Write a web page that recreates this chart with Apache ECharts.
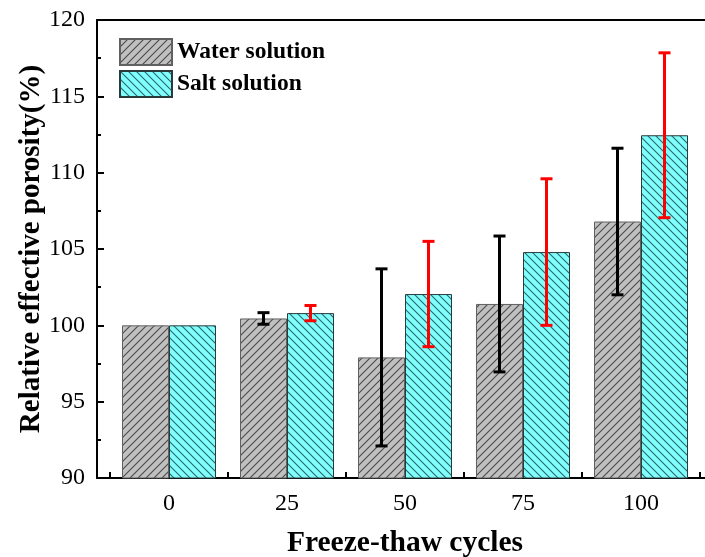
<!DOCTYPE html>
<html>
<head>
<meta charset="utf-8">
<script src="https://cdn.jsdelivr.net/npm/echarts@6/dist/echarts.min.js"></script>
<style>
  html, body { margin: 0; padding: 0; background: #fff; }
  #chart { width: 705px; height: 557px; }
</style>
</head>
<body>
<div id="chart"></div>
<script>
// Freeze-thaw cycle counts (x categories)
const cycles = ['0', '25', '50', '75', '100'];
// Relative effective porosity (%), mean values
const waterMean = [100.0, 100.45, 97.9, 101.4, 106.8];
const saltMean  = [100.0, 100.8, 102.05, 104.8, 112.45];
// Standard deviations drawn as error bars
const waterErr = [0, 0.38, 5.8, 4.45, 4.8];
const saltErr  = [0, 0.5, 3.45, 4.8, 5.4];
// Y axis range and ticks
const yMin = 90, yMax = 120, yStep = 5;

const serif = '"Liberation Serif", "Times New Roman", serif';
const BAR_W = 47;

// Hatched fill: base colour with thin diagonal lines; dir 1 = "/", -1 = "\"
function hatch(base, line, dir) {
  const p = 8;
  const c = document.createElement('canvas');
  c.width = p; c.height = p;
  const g = c.getContext('2d');
  g.fillStyle = base;
  g.fillRect(0, 0, p, p);
  g.strokeStyle = line;
  g.lineWidth = 1.1;
  g.beginPath();
  if (dir > 0) {
    g.moveTo(-1, p + 1); g.lineTo(p + 1, -1);
    g.moveTo(-1, 1); g.lineTo(1, -1);
    g.moveTo(p - 1, p + 1); g.lineTo(p + 1, p - 1);
  } else {
    g.moveTo(-1, -1); g.lineTo(p + 1, p + 1);
    g.moveTo(p - 1, -1); g.lineTo(p + 1, 1);
    g.moveTo(-1, p - 1); g.lineTo(1, p + 1);
  }
  g.stroke();
  return { image: c, repeat: 'repeat' };
}

function errData(mean, err) {
  return mean.map((m, i) => [i, m - err[i], m + err[i]]);
}

function errRenderer(shift, color) {
  return function (params, api) {
    if (api.value(2) - api.value(1) === 0) return null;
    const i = api.value(0);
    const lo = api.coord([i, api.value(1)]);
    const hi = api.coord([i, api.value(2)]);
    const x = lo[0] + shift;
    const cap = 6;
    const style = { stroke: color, lineWidth: 3 };
    return {
      type: 'group',
      children: [
        { type: 'line', shape: { x1: x, y1: lo[1], x2: x, y2: hi[1] }, style },
        { type: 'line', shape: { x1: x - cap, y1: hi[1], x2: x + cap, y2: hi[1] }, style },
        { type: 'line', shape: { x1: x - cap, y1: lo[1], x2: x + cap, y2: lo[1] }, style }
      ]
    };
  };
}

const chart = echarts.init(document.getElementById('chart'));
chart.setOption({
  animation: false,
  backgroundColor: '#fff',
  grid: [
    { left: 97, top: 20, bottom: 79, width: 640, outerBoundsMode: 'none' },
    { left: 110, top: 20, bottom: 79, width: 590, outerBoundsMode: 'none' }
  ],
  legend: {
    orient: 'vertical',
    left: 114, top: 33,
    icon: 'rect',
    itemWidth: 52, itemHeight: 26, itemGap: 4,
    textStyle: { fontFamily: serif, fontWeight: 'bold', fontSize: 23.5, color: '#000' },
    data: ['Water solution', 'Salt solution']
  },
  xAxis: [
    { gridIndex: 0, type: 'value', min: 0, max: 1, position: 'bottom',
      axisLine: { show: true, lineStyle: { color: '#000', width: 2 } },
      axisTick: { show: false }, axisLabel: { show: false }, splitLine: { show: false } },
    { gridIndex: 0, type: 'value', min: 0, max: 1, position: 'top',
      axisLine: { show: true, lineStyle: { color: '#000', width: 2 } },
      axisTick: { show: false }, axisLabel: { show: false }, splitLine: { show: false } },
    { gridIndex: 1, type: 'category', data: cycles, boundaryGap: true,
      axisLine: { show: false },
      axisTick: { show: true, inside: true, length: 6, lineStyle: { color: '#000', width: 2 } },
      axisLabel: { fontFamily: serif, fontSize: 24, color: '#000', margin: 14 },
      name: 'Freeze-thaw cycles', nameLocation: 'middle', nameGap: 50, nameMoveOverlap: false,
      nameTextStyle: { fontFamily: serif, fontWeight: 'bold', fontSize: 29.5, color: '#000' } },
  ],
  yAxis: [
    { gridIndex: 0, type: 'value', min: yMin, max: yMax, interval: yStep,
      axisLine: { show: true, lineStyle: { color: '#000', width: 2 } },
      axisTick: { show: true, inside: true, length: 7, lineStyle: { color: '#000', width: 2 } },
      minorTick: { show: true, splitNumber: 2, length: 4, lineStyle: { color: '#000', width: 2 } },
      axisLabel: { fontFamily: serif, fontSize: 24, color: '#000', margin: 12 },
      splitLine: { show: false },
      name: 'Relative effective porosity(%)', nameLocation: 'middle', nameGap: 51, nameMoveOverlap: false,
      nameTextStyle: { fontFamily: serif, fontWeight: 'bold', fontSize: 29, color: '#000' } },
    { gridIndex: 1, type: 'value', min: yMin, max: yMax, show: false, splitLine: { show: false } }
  ],
  series: [
    { name: 'Water solution', type: 'bar', xAxisIndex: 2, yAxisIndex: 1,
      data: waterMean, barWidth: BAR_W, barGap: '0%',
      itemStyle: { color: hatch('#c0c0c0', '#4a4a4a', 1), borderColor: '#606060', borderWidth: 1 } },
    { name: 'Salt solution', type: 'bar', xAxisIndex: 2, yAxisIndex: 1,
      data: saltMean, barWidth: BAR_W, barGap: '0%',
      itemStyle: { color: hatch('#80ffff', '#2d6868', -1), borderColor: '#2a3a3a', borderWidth: 1 } },
    { type: 'custom', xAxisIndex: 2, yAxisIndex: 1, z: 5,
      data: errData(waterMean, waterErr),
      renderItem: errRenderer(-BAR_W / 2, '#000') },
    { type: 'custom', xAxisIndex: 2, yAxisIndex: 1, z: 5,
      data: errData(saltMean, saltErr),
      renderItem: errRenderer(BAR_W / 2, '#ff0000') }
  ]
});
</script>
</body>
</html>
